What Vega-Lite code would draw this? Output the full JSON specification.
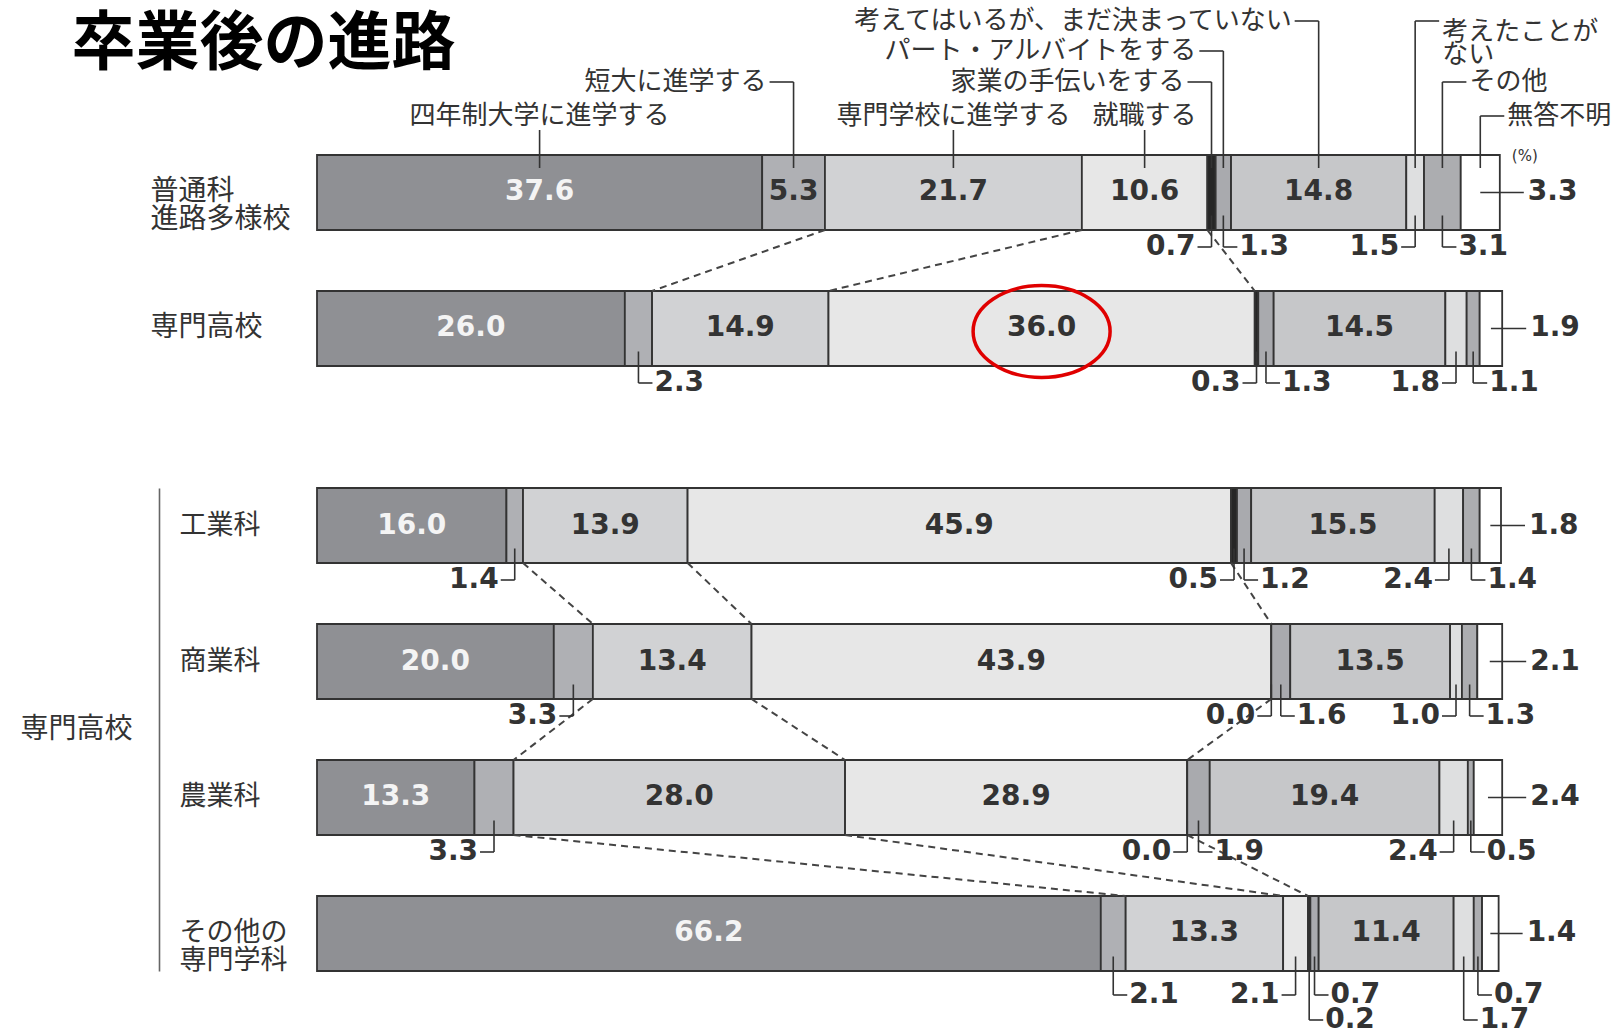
{
  "$schema": "https://vega.github.io/schema/vega-lite/v6.json",
  "background": "white",
  "padding": {"left": 19, "top": 5, "right": 0, "bottom": 0},
  "config": {"view": {"stroke": null}},
  "spacing": 87,
  "datasets": {
    "d": [
      {"s": "普通科進路多様校", "c": "四年制大学に進学する", "v": 37.6},
      {"s": "普通科進路多様校", "c": "短大に進学する", "v": 5.3},
      {"s": "普通科進路多様校", "c": "専門学校に進学する", "v": 21.7},
      {"s": "普通科進路多様校", "c": "就職する", "v": 10.6},
      {"s": "普通科進路多様校", "c": "家業の手伝いをする", "v": 0.7},
      {"s": "普通科進路多様校", "c": "パート・アルバイトをする", "v": 1.3},
      {"s": "普通科進路多様校", "c": "考えてはいるが、まだ決まっていない", "v": 14.8},
      {"s": "普通科進路多様校", "c": "考えたことがない", "v": 1.5},
      {"s": "普通科進路多様校", "c": "その他", "v": 3.1},
      {"s": "普通科進路多様校", "c": "無答不明", "v": 3.3},
      {"s": "専門高校", "c": "四年制大学に進学する", "v": 26.0},
      {"s": "専門高校", "c": "短大に進学する", "v": 2.3},
      {"s": "専門高校", "c": "専門学校に進学する", "v": 14.9},
      {"s": "専門高校", "c": "就職する", "v": 36.0},
      {"s": "専門高校", "c": "家業の手伝いをする", "v": 0.3},
      {"s": "専門高校", "c": "パート・アルバイトをする", "v": 1.3},
      {"s": "専門高校", "c": "考えてはいるが、まだ決まっていない", "v": 14.5},
      {"s": "専門高校", "c": "考えたことがない", "v": 1.8},
      {"s": "専門高校", "c": "その他", "v": 1.1},
      {"s": "専門高校", "c": "無答不明", "v": 1.9},
      {"s": "工業科", "c": "四年制大学に進学する", "v": 16.0},
      {"s": "工業科", "c": "短大に進学する", "v": 1.4},
      {"s": "工業科", "c": "専門学校に進学する", "v": 13.9},
      {"s": "工業科", "c": "就職する", "v": 45.9},
      {"s": "工業科", "c": "家業の手伝いをする", "v": 0.5},
      {"s": "工業科", "c": "パート・アルバイトをする", "v": 1.2},
      {"s": "工業科", "c": "考えてはいるが、まだ決まっていない", "v": 15.5},
      {"s": "工業科", "c": "考えたことがない", "v": 2.4},
      {"s": "工業科", "c": "その他", "v": 1.4},
      {"s": "工業科", "c": "無答不明", "v": 1.8},
      {"s": "商業科", "c": "四年制大学に進学する", "v": 20.0},
      {"s": "商業科", "c": "短大に進学する", "v": 3.3},
      {"s": "商業科", "c": "専門学校に進学する", "v": 13.4},
      {"s": "商業科", "c": "就職する", "v": 43.9},
      {"s": "商業科", "c": "家業の手伝いをする", "v": 0.0},
      {"s": "商業科", "c": "パート・アルバイトをする", "v": 1.6},
      {"s": "商業科", "c": "考えてはいるが、まだ決まっていない", "v": 13.5},
      {"s": "商業科", "c": "考えたことがない", "v": 1.0},
      {"s": "商業科", "c": "その他", "v": 1.3},
      {"s": "商業科", "c": "無答不明", "v": 2.1},
      {"s": "農業科", "c": "四年制大学に進学する", "v": 13.3},
      {"s": "農業科", "c": "短大に進学する", "v": 3.3},
      {"s": "農業科", "c": "専門学校に進学する", "v": 28.0},
      {"s": "農業科", "c": "就職する", "v": 28.9},
      {"s": "農業科", "c": "家業の手伝いをする", "v": 0.0},
      {"s": "農業科", "c": "パート・アルバイトをする", "v": 1.9},
      {"s": "農業科", "c": "考えてはいるが、まだ決まっていない", "v": 19.4},
      {"s": "農業科", "c": "考えたことがない", "v": 2.4},
      {"s": "農業科", "c": "その他", "v": 0.5},
      {"s": "農業科", "c": "無答不明", "v": 2.4},
      {"s": "その他の専門学科", "c": "四年制大学に進学する", "v": 66.2},
      {"s": "その他の専門学科", "c": "短大に進学する", "v": 2.1},
      {"s": "その他の専門学科", "c": "専門学校に進学する", "v": 13.3},
      {"s": "その他の専門学科", "c": "就職する", "v": 2.1},
      {"s": "その他の専門学科", "c": "家業の手伝いをする", "v": 0.2},
      {"s": "その他の専門学科", "c": "パート・アルバイトをする", "v": 0.7},
      {"s": "その他の専門学科", "c": "考えてはいるが、まだ決まっていない", "v": 11.4},
      {"s": "その他の専門学科", "c": "考えたことがない", "v": 1.7},
      {"s": "その他の専門学科", "c": "その他", "v": 0.7},
      {"s": "その他の専門学科", "c": "無答不明", "v": 1.4}
    ]
  },
  "vconcat": [
    {
      "width": 1184,
      "height": 395,
      "data": {"name": "d"},
      "transform": [
        {"filter": "datum.s == '普通科進路多様校' || datum.s == '専門高校'"},
        {"calculate": "indexof(['四年制大学に進学する','短大に進学する','専門学校に進学する','就職する','家業の手伝いをする','パート・アルバイトをする','考えてはいるが、まだ決まっていない','考えたことがない','その他','無答不明'], datum.c)", "as": "o"},
        {"calculate": "indexof(['普通科進路多様校','専門高校','工業科','商業科','農業科','その他の専門学科'], datum.s)", "as": "r"},
        {"stack": "v", "groupby": ["s"], "sort": [{"field": "o", "order": "ascending"}], "as": ["x0", "x1"]},
        {"calculate": "(datum.x0 + datum.x1) / 2", "as": "m"}
      ],
      "encoding": {
        "y": {"field": "s", "type": "nominal",
          "scale": {"domain": ["普通科進路多様校", "専門高校"], "paddingInner": 0.4485, "paddingOuter": 0.6765, "align": 0.8152},
          "axis": {"domain": false, "ticks": false, "tickSize": 0, "labelAlign": "left", "labelPadding": 167, "labelBaseline": "middle", "labelFont": "Noto Sans CJK JP", "labelFontSize": 28, "labelColor": "#333333", "labelLineHeight": 28, "labelLimit": 400,
            "labelExpr": "datum.label == '普通科進路多様校' ? ['普通科','進路多様校'] : datum.label",
            "title": "卒業後の進路", "titleAngle": 0, "titleAlign": "left", "titleBaseline": "alphabetic", "titleX": -246, "titleY": 58, "titleFont": "Noto Sans CJK JP", "titleFontSize": 64, "titleFontWeight": "bold", "titleColor": "#000000", "titleLimit": 1000}}
      },
      "layer": [
        {
          "mark": {"type": "bar", "stroke": "#333333", "strokeWidth": 1.8},
          "encoding": {
            "x": {"field": "x0", "type": "quantitative", "scale": {"domain": [0, 100], "nice": false, "zero": false}, "axis": null},
            "x2": {"field": "x1"},
            "color": {"field": "c", "type": "nominal", "legend": null,
              "scale": {"domain": ["四年制大学に進学する","短大に進学する","専門学校に進学する","就職する","家業の手伝いをする","パート・アルバイトをする","考えてはいるが、まだ決まっていない","考えたことがない","その他","無答不明"],
                "range": ["#8f9094", "#afb0b4", "#d1d2d4", "#e7e7e7", "#262626", "#a9aaae", "#c6c7c9", "#dedfe0", "#acadb0", "#ffffff"]}}
          }
        },
        {
          "transform": [{"filter": "datum.v >= 5"}],
          "mark": {"type": "text", "font": "DejaVu Sans", "fontSize": 28, "fontWeight": "bold", "baseline": "middle"},
          "encoding": {
            "x": {"field": "m", "type": "quantitative", "scale": {"domain": [0, 100], "nice": false, "zero": false}, "axis": null},
            "text": {"field": "v", "type": "quantitative", "format": ".1f"},
            "color": {"condition": {"test": "datum.o == 0", "value": "#f4f4f4"}, "value": "#333333"}
          }
        },
        {
          "transform": [
            {"filter": "datum.o >= 1 && datum.o <= 3"},
            {"window": [{"op": "lead", "field": "x1", "as": "nx"}, {"op": "lead", "field": "s", "as": "ns"}], "groupby": ["o"], "sort": [{"field": "r", "order": "ascending"}]},
            {"filter": "datum.ns != null"}
          ],
          "mark": {"type": "rule", "strokeDash": [7, 5], "color": "#444444", "strokeWidth": 2, "yOffset": 37.5, "y2Offset": -37.5},
          "encoding": {
            "x": {"field": "x1", "type": "quantitative", "scale": {"domain": [0, 100], "nice": false, "zero": false}, "axis": null},
            "x2": {"field": "nx"},
            "y2": {"field": "ns"}
          }
        },
        {
          "transform": [
            {"filter": "datum.v < 5 && datum.o < 9"},
            {"calculate": "(datum.o == 1 && (datum.s == '専門高校' || datum.s == 'その他の専門学科')) || (datum.s == 'その他の専門学科' && (datum.o == 4 || datum.o == 7)) ? 'R' : (indexof([1,3,4,7], datum.o) >= 0 ? 'L' : 'R')", "as": "side"},
            {"calculate": "datum.s == 'その他の専門学科' ? ((datum.o == 4 || datum.o == 7) ? 86.5 : 61.5) : 54.5", "as": "off"}
          ],
          "layer": [
            {
              "mark": {"type": "rule", "color": "#333333", "strokeWidth": 1.6, "yOffset": 23, "y2Offset": {"expr": "datum.off"}},
              "encoding": {
                "x": {"field": "m", "type": "quantitative", "scale": {"domain": [0, 100], "nice": false, "zero": false}, "axis": null},
                "y2": {"field": "s"}
              }
            },
            {
              "mark": {"type": "rule", "color": "#333333", "strokeWidth": 1.6, "yOffset": {"expr": "datum.off"}, "x2Offset": {"expr": "datum.side == 'L' ? -14 : 14"}},
              "encoding": {
                "x": {"field": "m", "type": "quantitative", "scale": {"domain": [0, 100], "nice": false, "zero": false}, "axis": null},
                "x2": {"field": "m"}
              }
            },
            {
              "mark": {"type": "text", "font": "DejaVu Sans", "fontSize": 28, "fontWeight": "bold", "color": "#333333", "baseline": "middle", "yOffset": {"expr": "datum.off"}, "dx": {"expr": "datum.side == 'L' ? -16 : 16"}, "align": {"expr": "datum.side == 'L' ? 'right' : 'left'"}},
              "encoding": {
                "x": {"field": "m", "type": "quantitative", "scale": {"domain": [0, 100], "nice": false, "zero": false}, "axis": null},
                "text": {"field": "v", "type": "quantitative", "format": ".1f"}
              }
            }
          ]
        },
        {
          "transform": [{"filter": "datum.o == 9"}],
          "layer": [
            {
              "mark": {"type": "rule", "color": "#333333", "strokeWidth": 1.6, "x2Offset": 24},
              "encoding": {
                "x": {"field": "m", "type": "quantitative", "scale": {"domain": [0, 100], "nice": false, "zero": false}, "axis": null},
                "x2": {"field": "x1"}
              }
            },
            {
              "mark": {"type": "text", "font": "DejaVu Sans", "fontSize": 28, "fontWeight": "bold", "color": "#333333", "baseline": "middle", "align": "left", "dx": 28},
              "encoding": {
                "x": {"field": "x1", "type": "quantitative", "scale": {"domain": [0, 100], "nice": false, "zero": false}, "axis": null},
                "text": {"field": "v", "type": "quantitative", "format": ".1f"}
              }
            }
          ]
        },
        {
          "transform": [
            {"filter": "datum.r == 0"},
            {"calculate": "[-76.5,-110.5,-76.5,-76.5,-110.5,-141.5,-171.5,-171.5,-110.5,-76.5][datum.o]", "as": "ty"},
            {"calculate": "['C','L','C','C','L','L','L','R','R','R'][datum.o]", "as": "cs"},
            {"calculate": "datum.o == 7 ? ['考えたことが','ない'] : datum.c", "as": "t"}
          ],
          "layer": [
            {
              "mark": {"type": "rule", "color": "#333333", "strokeWidth": 1.6, "yOffset": -24.5, "y2Offset": {"expr": "datum.cs == 'C' ? datum.ty + 14 : datum.ty"}},
              "encoding": {
                "x": {"field": "m", "type": "quantitative", "scale": {"domain": [0, 100], "nice": false, "zero": false}, "axis": null},
                "y2": {"field": "s"}
              }
            },
            {
              "transform": [{"filter": "datum.cs != 'C'"}],
              "mark": {"type": "rule", "color": "#333333", "strokeWidth": 1.6, "yOffset": {"expr": "datum.ty"}, "x2Offset": {"expr": "datum.cs == 'L' ? -24 : 24"}},
              "encoding": {
                "x": {"field": "m", "type": "quantitative", "scale": {"domain": [0, 100], "nice": false, "zero": false}, "axis": null},
                "x2": {"field": "m"}
              }
            },
            {
              "mark": {"type": "text", "font": "Noto Sans CJK JP", "fontSize": 26, "color": "#333333", "baseline": "middle", "lineHeight": 23,
                "yOffset": {"expr": "datum.o == 7 ? datum.ty + 11.5 : datum.ty"},
                "dx": {"expr": "datum.cs == 'L' ? -27 : (datum.cs == 'R' ? 27 : 0)"},
                "align": {"expr": "datum.cs == 'L' ? 'right' : (datum.cs == 'R' ? 'left' : 'center')"}},
              "encoding": {
                "x": {"field": "m", "type": "quantitative", "scale": {"domain": [0, 100], "nice": false, "zero": false}, "axis": null},
                "text": {"field": "t", "type": "nominal"}
              }
            },
            {
              "transform": [{"filter": "datum.o == 9"}],
              "mark": {"type": "text", "font": "DejaVu Sans", "fontSize": 15, "color": "#333333", "baseline": "middle", "align": "left", "dx": 12, "yOffset": -36},
              "encoding": {
                "x": {"field": "x1", "type": "quantitative", "scale": {"domain": [0, 100], "nice": false, "zero": false}, "axis": null},
                "text": {"value": "(%)"}
              }
            }
          ]
        },
        {
          "transform": [{"filter": "datum.r == 1 && datum.o == 3"}],
          "mark": {"type": "point", "shape": "M -1 0 A 1 0.67 0 1 0 1 0 A 1 0.67 0 1 0 -1 0 Z", "size": 18769, "filled": false, "stroke": "#e00000", "strokeWidth": 3.5, "opacity": 1, "yOffset": 3},
          "encoding": {
            "x": {"field": "m", "type": "quantitative", "scale": {"domain": [0, 100], "nice": false, "zero": false}, "axis": null}
          }
        }
      ]
    },
    {
      "width": 1184,
      "height": 483,
      "data": {"name": "d"},
      "transform": [
        {"filter": "datum.s != '普通科進路多様校' && datum.s != '専門高校'"},
        {"calculate": "indexof(['四年制大学に進学する','短大に進学する','専門学校に進学する','就職する','家業の手伝いをする','パート・アルバイトをする','考えてはいるが、まだ決まっていない','考えたことがない','その他','無答不明'], datum.c)", "as": "o"},
        {"calculate": "indexof(['普通科進路多様校','専門高校','工業科','商業科','農業科','その他の専門学科'], datum.s)", "as": "r"},
        {"stack": "v", "groupby": ["s"], "sort": [{"field": "o", "order": "ascending"}], "as": ["x0", "x1"]},
        {"calculate": "(datum.x0 + datum.x1) / 2", "as": "m"}
      ],
      "encoding": {
        "y": {"field": "s", "type": "nominal",
          "scale": {"domain": ["工業科", "商業科", "農業科", "その他の専門学科"], "paddingInner": 0.4485, "paddingOuter": 0, "align": 0.5},
          "axis": {"offset": 158, "domain": true, "domainColor": "#666666", "domainWidth": 1.6, "ticks": false, "tickSize": 0, "labelAlign": "left", "labelPadding": -20, "labelBaseline": "middle", "labelFont": "Noto Sans CJK JP", "labelFontSize": 27, "labelColor": "#333333", "labelLineHeight": 28, "labelLimit": 400,
            "labelExpr": "datum.label == 'その他の専門学科' ? ['その他の','専門学科'] : datum.label",
            "title": "専門高校", "titleAngle": 0, "titleAlign": "right", "titleBaseline": "middle", "titlePadding": 27, "titleFont": "Noto Sans CJK JP", "titleFontSize": 28, "titleFontWeight": "normal", "titleColor": "#333333"}}
      },
      "layer": [
        {
          "mark": {"type": "bar", "stroke": "#333333", "strokeWidth": 1.8},
          "encoding": {
            "x": {"field": "x0", "type": "quantitative", "scale": {"domain": [0, 100], "nice": false, "zero": false}, "axis": null},
            "x2": {"field": "x1"},
            "color": {"field": "c", "type": "nominal", "legend": null,
              "scale": {"domain": ["四年制大学に進学する","短大に進学する","専門学校に進学する","就職する","家業の手伝いをする","パート・アルバイトをする","考えてはいるが、まだ決まっていない","考えたことがない","その他","無答不明"],
                "range": ["#8f9094", "#afb0b4", "#d1d2d4", "#e7e7e7", "#262626", "#a9aaae", "#c6c7c9", "#dedfe0", "#acadb0", "#ffffff"]}}
          }
        },
        {
          "transform": [{"filter": "datum.v >= 5"}],
          "mark": {"type": "text", "font": "DejaVu Sans", "fontSize": 28, "fontWeight": "bold", "baseline": "middle"},
          "encoding": {
            "x": {"field": "m", "type": "quantitative", "scale": {"domain": [0, 100], "nice": false, "zero": false}, "axis": null},
            "text": {"field": "v", "type": "quantitative", "format": ".1f"},
            "color": {"condition": {"test": "datum.o == 0", "value": "#f4f4f4"}, "value": "#333333"}
          }
        },
        {
          "transform": [
            {"filter": "datum.o >= 1 && datum.o <= 3"},
            {"window": [{"op": "lead", "field": "x1", "as": "nx"}, {"op": "lead", "field": "s", "as": "ns"}], "groupby": ["o"], "sort": [{"field": "r", "order": "ascending"}]},
            {"filter": "datum.ns != null"}
          ],
          "mark": {"type": "rule", "strokeDash": [7, 5], "color": "#444444", "strokeWidth": 2, "yOffset": 37.5, "y2Offset": -37.5},
          "encoding": {
            "x": {"field": "x1", "type": "quantitative", "scale": {"domain": [0, 100], "nice": false, "zero": false}, "axis": null},
            "x2": {"field": "nx"},
            "y2": {"field": "ns"}
          }
        },
        {
          "transform": [
            {"filter": "datum.v < 5 && datum.o < 9"},
            {"calculate": "(datum.o == 1 && (datum.s == '専門高校' || datum.s == 'その他の専門学科')) || (datum.s == 'その他の専門学科' && (datum.o == 4 || datum.o == 7)) ? 'R' : (indexof([1,3,4,7], datum.o) >= 0 ? 'L' : 'R')", "as": "side"},
            {"calculate": "datum.s == 'その他の専門学科' ? ((datum.o == 4 || datum.o == 7) ? 86.5 : 61.5) : 54.5", "as": "off"}
          ],
          "layer": [
            {
              "mark": {"type": "rule", "color": "#333333", "strokeWidth": 1.6, "yOffset": 23, "y2Offset": {"expr": "datum.off"}},
              "encoding": {
                "x": {"field": "m", "type": "quantitative", "scale": {"domain": [0, 100], "nice": false, "zero": false}, "axis": null},
                "y2": {"field": "s"}
              }
            },
            {
              "mark": {"type": "rule", "color": "#333333", "strokeWidth": 1.6, "yOffset": {"expr": "datum.off"}, "x2Offset": {"expr": "datum.side == 'L' ? -14 : 14"}},
              "encoding": {
                "x": {"field": "m", "type": "quantitative", "scale": {"domain": [0, 100], "nice": false, "zero": false}, "axis": null},
                "x2": {"field": "m"}
              }
            },
            {
              "mark": {"type": "text", "font": "DejaVu Sans", "fontSize": 28, "fontWeight": "bold", "color": "#333333", "baseline": "middle", "yOffset": {"expr": "datum.off"}, "dx": {"expr": "datum.side == 'L' ? -16 : 16"}, "align": {"expr": "datum.side == 'L' ? 'right' : 'left'"}},
              "encoding": {
                "x": {"field": "m", "type": "quantitative", "scale": {"domain": [0, 100], "nice": false, "zero": false}, "axis": null},
                "text": {"field": "v", "type": "quantitative", "format": ".1f"}
              }
            }
          ]
        },
        {
          "transform": [{"filter": "datum.o == 9"}],
          "layer": [
            {
              "mark": {"type": "rule", "color": "#333333", "strokeWidth": 1.6, "x2Offset": 24},
              "encoding": {
                "x": {"field": "m", "type": "quantitative", "scale": {"domain": [0, 100], "nice": false, "zero": false}, "axis": null},
                "x2": {"field": "x1"}
              }
            },
            {
              "mark": {"type": "text", "font": "DejaVu Sans", "fontSize": 28, "fontWeight": "bold", "color": "#333333", "baseline": "middle", "align": "left", "dx": 28},
              "encoding": {
                "x": {"field": "x1", "type": "quantitative", "scale": {"domain": [0, 100], "nice": false, "zero": false}, "axis": null},
                "text": {"field": "v", "type": "quantitative", "format": ".1f"}
              }
            }
          ]
        }
      ]
    }
  ]
}
